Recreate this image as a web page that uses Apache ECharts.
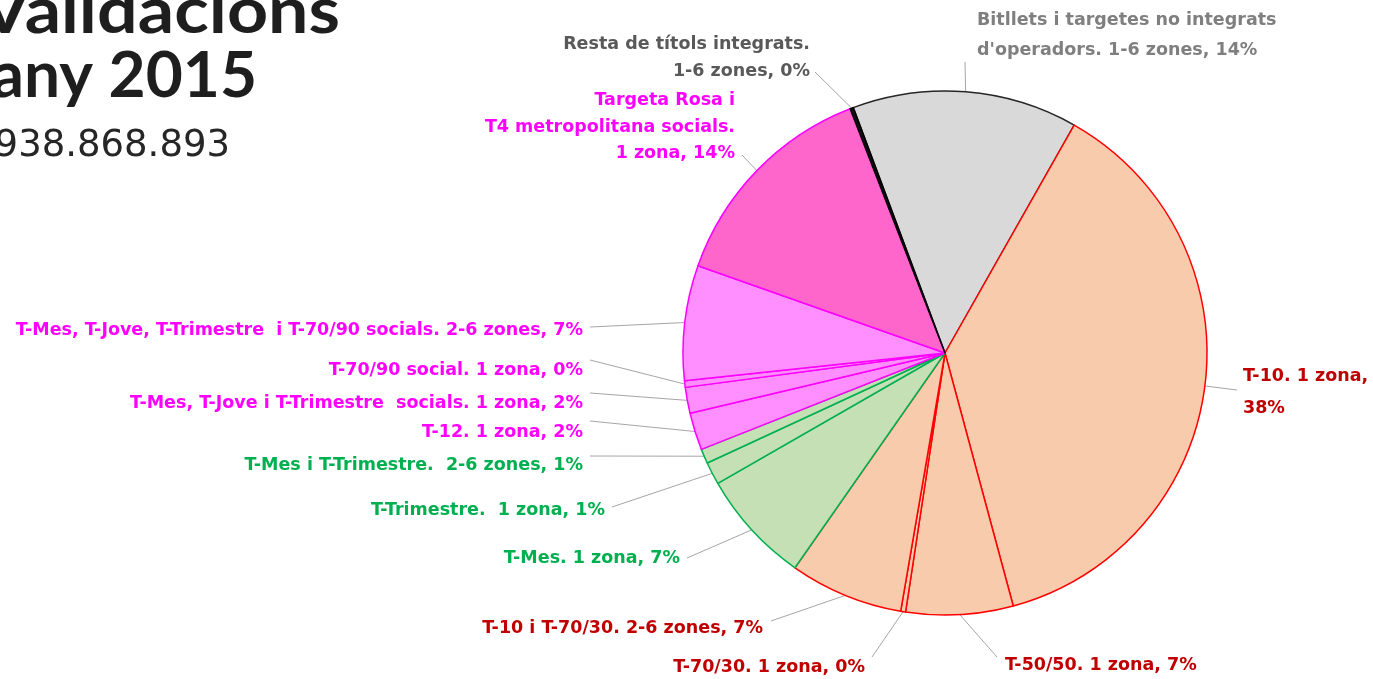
<!DOCTYPE html>
<html>
<head>
<meta charset="utf-8">
<script src="https://cdn.jsdelivr.net/npm/echarts@6.0.0/dist/echarts.min.js"></script>
<style>
  html, body { margin: 0; padding: 0; background: #fff; }
  #chart { width: 1373px; height: 679px; }
</style>
</head>
<body>
<div id="chart"></div>
<script>
// títols de validacions 2015 (share of all validations, %)
var categories = [
    "Bitllets i targetes no integrats\nd'operadors. 1-6 zones",
    'T-10. 1 zona',
    'T-50/50. 1 zona',
    'T-70/30. 1 zona',
    'T-10 i T-70/30. 2-6 zones',
    'T-Mes. 1 zona',
    'T-Trimestre.  1 zona',
    'T-Mes i T-Trimestre.  2-6 zones',
    'T-12. 1 zona',
    'T-Mes, T-Jove i T-Trimestre  socials. 1 zona',
    'T-70/90 social. 1 zona',
    'T-Mes, T-Jove, T-Trimestre  i T-70/90 socials. 2-6 zones',
    'Targeta Rosa i\nT4 metropolitana socials.\n1 zona',
    'Resta de títols integrats.\n1-6 zones'
];
var shares = [13.9, 37.6, 6.6, 0.3, 7.0, 7.0, 1.4, 0.9, 2.3, 1.6, 0.4, 7.1, 13.7, 0.2];
var groups = ['grey', 'red', 'red', 'red', 'red', 'green', 'green', 'green',
              'pink', 'pink', 'pink', 'pink', 'rose', 'dark'];
var titleLines = ['Validacions', 'any 2015'];
var totalText = '938.868.893';

var palette = {
    grey:  { fill: '#d9d9d9', border: '#262626', text: '#7f7f7f' },
    red:   { fill: '#f8cbad', border: '#ff0000', text: '#c00000' },
    green: { fill: '#c5e0b4', border: '#00b050', text: '#00b050' },
    pink:  { fill: '#ff8fff', border: '#ff00ff', text: '#ff00ff' },
    rose:  { fill: '#ff66cc', border: '#ff00ff', text: '#ff00ff' },
    dark:  { fill: '#111111', border: '#000000', text: '#595959' }
};

// where each label sits and where its leader line ends
var labelSpots = [
    { x: 977,  y: 35,  align: 'left',  end: [965, 62],  lh: 30 },
    { x: 1243, y: 392, align: 'left',  end: [1237, 390], lh: 32 },
    { x: 1005, y: 665, align: 'left',  end: [997, 657] },
    { x: 865,  y: 667, align: 'right', end: [872, 657] },
    { x: 763,  y: 628, align: 'right', end: [771, 621] },
    { x: 680,  y: 558, align: 'right', end: [687, 558] },
    { x: 605,  y: 510, align: 'right', end: [612, 507] },
    { x: 583,  y: 465, align: 'right', end: [590, 456] },
    { x: 583,  y: 432, align: 'right', end: [590, 421] },
    { x: 583,  y: 403, align: 'right', end: [590, 393] },
    { x: 583,  y: 370, align: 'right', end: [590, 360] },
    { x: 583,  y: 330, align: 'right', end: [590, 327] },
    { x: 735,  y: 127, align: 'right', end: [742, 155], lh: 26.5 },
    { x: 810,  y: 58,  align: 'right', end: [815, 72],  lh: 27 }
];

var chart = echarts.init(document.getElementById('chart'));

var pieData = categories.map(function (name, i) {
    var c = palette[groups[i]];
    return {
        name: name,
        value: shares[i],
        itemStyle: { color: c.fill, borderColor: c.border },
        label: { color: c.text, lineHeight: labelSpots[i].lh || 28 }
    };
});

var option = {
    animation: false,
    backgroundColor: '#ffffff',
    graphic: [
        {
            type: 'text', x: 340, y: 12, scaleX: 1.12,
            style: { text: titleLines[0], font: 'bold 64px Lato', fill: '#1e1e1e',
                     align: 'right', verticalAlign: 'middle' }
        },
        {
            type: 'text', x: 257, y: 76,
            style: { text: titleLines[1], font: 'bold 64px Lato', fill: '#1e1e1e',
                     align: 'right', verticalAlign: 'middle' }
        },
        {
            type: 'text', x: 230, y: 146,
            style: { text: totalText, font: '37px "DejaVu Sans"', fill: '#262626',
                     align: 'right', verticalAlign: 'middle' }
        }
    ],
    series: [{
        type: 'pie',
        center: [945, 353],
        radius: 262,
        startAngle: 110.5,
        clockwise: true,
        avoidLabelOverlap: false,
        emphasis: { disabled: true },
        itemStyle: { borderWidth: 1.5 },
        label: {
            show: true,
            position: 'outside',
            fontFamily: 'DejaVu Sans',
            fontWeight: 'bold',
            fontSize: 17.5,
            formatter: function (p) {
                var pct = Math.round(p.percent) + '%';
                return p.dataIndex === 1 ? p.name + ',\n' + pct : p.name + ', ' + pct;
            }
        },
        labelLine: {
            show: true,
            length: 20,
            length2: 10,
            lineStyle: { color: '#a6a6a6', width: 1 }
        },
        labelLayout: function (p) {
            var s = labelSpots[p.dataIndex];
            var out = { x: s.x, y: s.y, align: s.align, verticalAlign: 'middle' };
            if (p.labelLinePoints) {
                out.labelLinePoints = [p.labelLinePoints[0], s.end];
            }
            return out;
        },
        data: pieData
    }]
};

chart.setOption(option);
</script>
</body>
</html>
